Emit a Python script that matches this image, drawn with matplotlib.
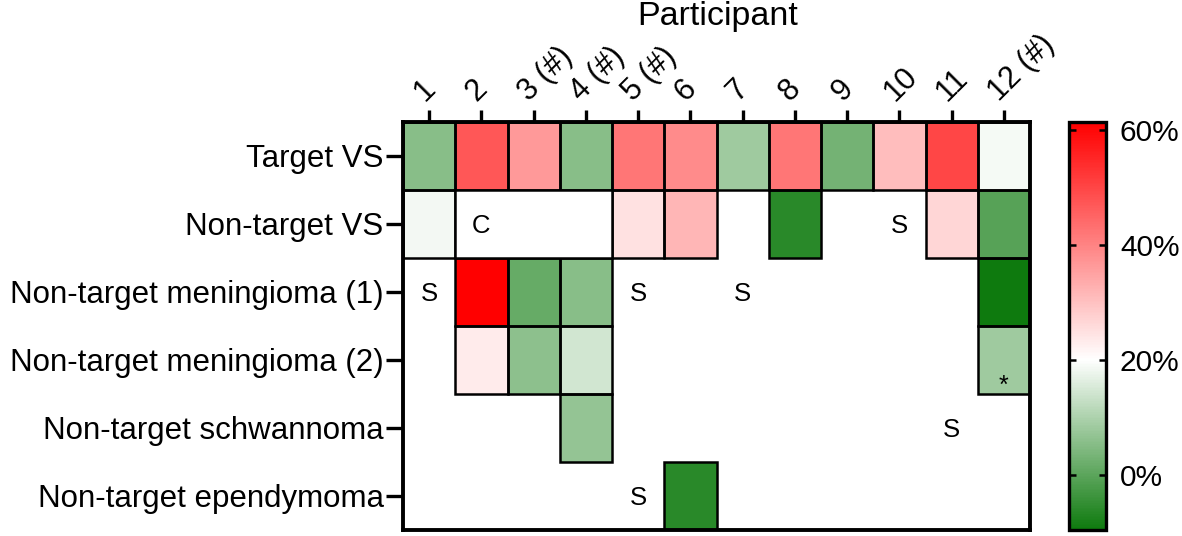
import numpy as np
import matplotlib
matplotlib.use("Agg")
import matplotlib.pyplot as plt
from matplotlib.colors import LinearSegmentedColormap, Normalize
from matplotlib.patches import Rectangle

plt.rcParams['font.family'] = ['Liberation Sans', 'DejaVu Sans']

participants = ["1", "2", "3 (#)", "4 (#)", "5 (#)", "6", "7", "8", "9", "10", "11", "12 (#)"]
lesions = ["Target VS", "Non-target VS", "Non-target meningioma (1)",
           "Non-target meningioma (2)", "Non-target schwannoma", "Non-target ependymoma"]

nan = np.nan
# percent change values per lesion (rows) and participant (columns)
target_vs        = [5.6, 47.0, 36.6, 5.5, 42.0, 38.7, 8.4, 42.0, 3.0, 30.8, 50.0, 18.8]
nontarget_vs     = [18.5, nan, nan, nan, 25.0, 32.0, nan, -6.0, nan, nan, 26.7, -0.5]
meningioma_1     = [nan, 61.4, 1.4, 5.5, nan, nan, nan, nan, nan, nan, nan, -9.6]
meningioma_2     = [nan, 23.4, 6.0, 14.5, nan, nan, nan, nan, nan, nan, nan, 8.4]
schwannoma       = [nan, nan, nan, 7.0, nan, nan, nan, nan, nan, nan, nan, nan]
ependymoma       = [nan, nan, nan, nan, nan, -6.0, nan, nan, nan, nan, nan, nan]

# text markers: (row, col, text)
markers = [(1, 1, "C"), (1, 9, "S"), (2, 0, "S"), (2, 4, "S"), (2, 6, "S"),
           (4, 10, "S"), (5, 4, "S")]
# bordered blank merged cells: (row, first col, last col)
merged_blank = [(1, 1, 3)]
stars = [(3, 11, "*")]

vmin, vmax, vmid = -9.6, 61.4, 20.0

data = np.array([target_vs, nontarget_vs, meningioma_1, meningioma_2, schwannoma, ependymoma])
masked = np.ma.masked_invalid(data)

mid = (vmid - vmin) / (vmax - vmin)
cmap = LinearSegmentedColormap.from_list(
    "gwr", [(0.0, "#0e7a0e"), (mid, "#ffffff"), (1.0, "#ff0000")])
norm = Normalize(vmin=vmin, vmax=vmax)

fig = plt.figure(figsize=(11.82, 5.36), dpi=100)
ax = fig.add_axes([403/1182, 1 - 530/536, (1030-403)/1182, (530-122)/536])
cax = fig.add_axes([1069/1182, 1 - 530/536, 37/1182, (530-122)/536])

mesh = ax.pcolormesh(np.arange(13), np.arange(7), masked, cmap=cmap, norm=norm,
                     edgecolors="none")
nrows, ncols = data.shape
for r in range(nrows):
    for c in range(ncols):
        if not np.isnan(data[r, c]):
            ax.add_patch(Rectangle((c, r), 1, 1, facecolor="none",
                                   edgecolor="black", linewidth=1.8, zorder=2))
for r, c0, c1 in merged_blank:
    ax.add_patch(Rectangle((c0, r), c1 - c0 + 1, 1, facecolor="white",
                           edgecolor="black", linewidth=1.8, zorder=2))
for r, c, t in markers:
    ax.text(c + 0.5, r + 0.53, t, ha="center", va="center", fontsize=18.5, zorder=3)
for r, c, t in stars:
    ax.text(c + 0.5, r + 0.88, t, ha="center", va="center", fontsize=18, zorder=3)

ax.set_xlim(0, 12)
ax.set_ylim(6, 0)
ax.set_xticks(np.arange(12) + 0.5)
ax.set_xticklabels(participants, rotation=45, ha="left", va="bottom",
                   rotation_mode="anchor", fontsize=22)
ax.xaxis.tick_top()
ax.set_yticks(np.arange(6) + 0.5)
ax.set_yticklabels(lesions, fontsize=22.5)
ax.tick_params(axis="x", length=9, width=2.4, pad=2)
ax.tick_params(axis="y", length=12, width=2.4, pad=2)
for s in ax.spines.values():
    s.set_linewidth(2.8)
    s.set_zorder(5)

fig.text(718/1182, 1 - 17/536, "Participant", ha="center", va="center", fontsize=24.5)

cb = fig.colorbar(mesh, cax=cax)
cb.set_ticks([0, 20, 40, 60])
cb.set_ticklabels(["0%", "20%", "40%", "60%"])
cb.outline.set_linewidth(2.4)
cax.tick_params(labelsize=21.5, length=5, width=1.8, direction="in", left=True, right=True, pad=10)

fig.savefig("out.png", dpi=100)
